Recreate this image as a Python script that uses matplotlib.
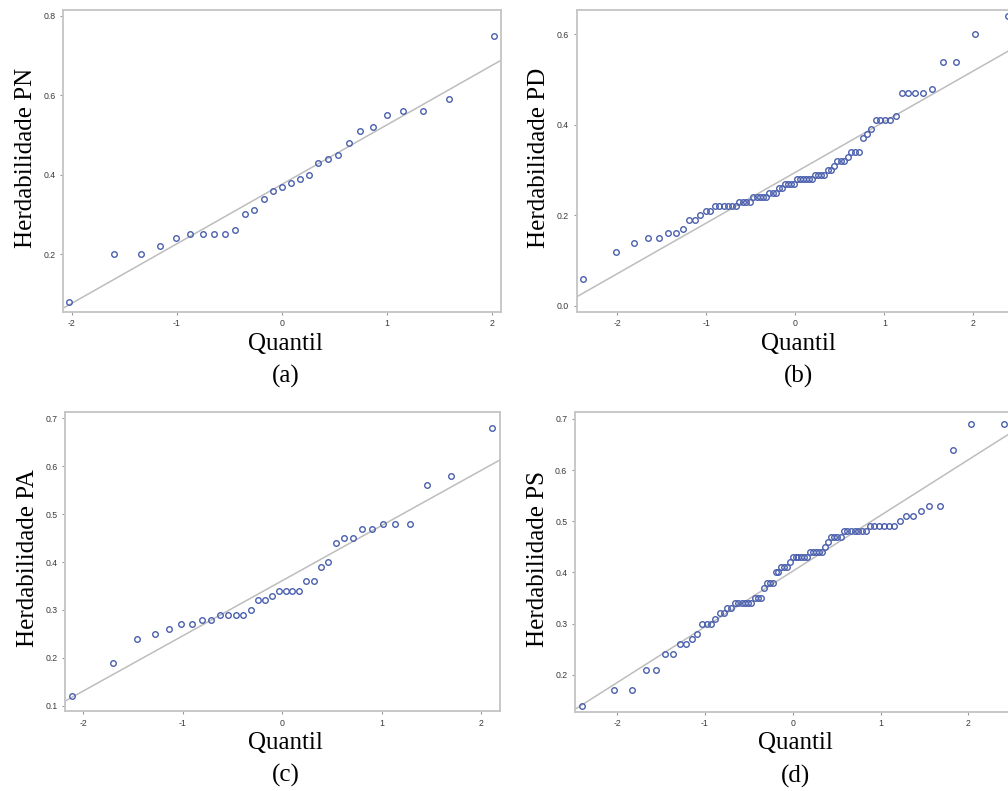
import matplotlib
matplotlib.use('Agg')
import matplotlib.pyplot as plt
import numpy as np
from statistics import NormalDist

# heritability values (sorted)
herd_pn = [0.08, 0.20, 0.20, 0.22, 0.24, 0.25, 0.25, 0.25, 0.25, 0.26, 0.30, 0.31, 0.34, 0.36, 0.37,
           0.38, 0.39, 0.40, 0.43, 0.44, 0.45, 0.48, 0.51, 0.52, 0.55, 0.56, 0.56, 0.59, 0.75]

herd_pd = [0.06, 0.12, 0.14, 0.15, 0.15, 0.16, 0.16, 0.17, 0.19, 0.19, 0.20, 0.21, 0.21,
           0.22, 0.22, 0.22, 0.22, 0.22, 0.22, 0.23, 0.23, 0.23, 0.23,
           0.24, 0.24, 0.24, 0.24, 0.24, 0.25, 0.25, 0.25, 0.26, 0.26,
           0.27, 0.27, 0.27, 0.27, 0.28, 0.28, 0.28, 0.28, 0.28, 0.28,
           0.29, 0.29, 0.29, 0.29, 0.30, 0.30, 0.31, 0.32, 0.32, 0.32, 0.33,
           0.34, 0.34, 0.34, 0.37, 0.38, 0.39, 0.41, 0.41, 0.41, 0.41, 0.42,
           0.47, 0.47, 0.47, 0.47, 0.48, 0.54, 0.54, 0.60, 0.64]

herd_pa = [0.12, 0.19, 0.24, 0.25, 0.26, 0.27, 0.27, 0.28, 0.28, 0.29, 0.29, 0.29, 0.29, 0.30,
           0.32, 0.32, 0.33, 0.34, 0.34, 0.34, 0.34, 0.36, 0.36, 0.39, 0.40, 0.44, 0.45, 0.45,
           0.47, 0.47, 0.48, 0.48, 0.48, 0.56, 0.58, 0.68]

herd_ps = [0.14, 0.17, 0.17, 0.21, 0.21, 0.24, 0.24, 0.26, 0.26, 0.27, 0.28, 0.30, 0.30, 0.30,
           0.31, 0.32, 0.32, 0.33, 0.33, 0.34, 0.34, 0.34, 0.34, 0.34, 0.34,
           0.35, 0.35, 0.35, 0.37, 0.38, 0.38, 0.38, 0.40, 0.40, 0.41, 0.41, 0.41, 0.42,
           0.43, 0.43, 0.43, 0.43, 0.43, 0.43, 0.44, 0.44, 0.44, 0.44, 0.44, 0.45, 0.46,
           0.47, 0.47, 0.47, 0.47, 0.48, 0.48, 0.48, 0.48, 0.48, 0.48, 0.48,
           0.49, 0.49, 0.49, 0.49, 0.49, 0.49, 0.50, 0.51, 0.51, 0.52, 0.53, 0.53,
           0.64, 0.69, 0.69]

series = [herd_pn, herd_pd, herd_pa, herd_ps]
ylabels = ['Herdabilidade PN', 'Herdabilidade PD', 'Herdabilidade PA', 'Herdabilidade PS']
letters = ['(a)', '(b)', '(c)', '(d)']
yticks = [[0.2, 0.4, 0.6, 0.8], [0.0, 0.2, 0.4, 0.6],
          [0.1, 0.2, 0.3, 0.4, 0.5, 0.6, 0.7], [0.2, 0.3, 0.4, 0.5, 0.6, 0.7]]
xticks = [-2, -1, 0, 1, 2]

# layout (figure fractions) and limits
axes_pos = [[0.0628, 0.6059, 0.4343, 0.3815],
            [0.5721, 0.6059, 0.4338, 0.3815],
            [0.0648, 0.1011, 0.4312, 0.3784],
            [0.5704, 0.1002, 0.4322, 0.3787]]
xlims = [(-2.08, 2.09), (-2.456, 2.456), (-2.18, 2.19), (-2.48, 2.48)]
ylims = [(0.055, 0.815), (-0.013, 0.654), (0.089, 0.714), (0.128, 0.713)]

plt.rcParams['axes.unicode_minus'] = False
serif = 'Liberation Serif'
marker_col = '#4a5fad'
line_col = '#bdbdbd'
spine_col = '#c4c4c4'

fig = plt.figure(figsize=(10.08, 7.91), dpi=100)

for k in range(4):
    vals = np.sort(np.array(series[k]))
    n = len(vals)
    # Blom normal scores, as in SAS QQPLOT
    q = np.array([NormalDist().inv_cdf((i - 0.375) / (n + 0.25)) for i in range(1, n + 1)])
    mu = vals.mean()
    sd = vals.std(ddof=1)

    ax = fig.add_axes(axes_pos[k])
    ax.axline((0, mu), slope=sd, color=line_col, lw=1.1, zorder=1)
    ax.plot(q, vals, 'o', mfc='none', mec=marker_col, mew=1.0, ms=4.0, zorder=2, clip_on=False)

    ax.set_xlim(*xlims[k])
    ax.set_ylim(*ylims[k])
    ax.set_xticks(xticks)
    ax.set_yticks(yticks[k])
    ax.set_xticklabels([str(t) for t in xticks])
    ax.set_yticklabels([f'{t:.1f}' for t in yticks[k]])

    for s in ax.spines.values():
        s.set_color(spine_col)
        s.set_linewidth(1.3)
    ax.tick_params(length=2.5, width=0.8, color='#9a9a9a', labelsize=6.3,
                   labelcolor='#3a3a3a', pad=3.0)
    for lab in ax.get_xticklabels() + ax.get_yticklabels():
        lab.set_family('Liberation Sans')

    ax.set_ylabel(ylabels[k], fontsize=18, family=serif)
    ax.yaxis.set_label_coords(-0.060, 0.51)
    ax.set_xlabel('Quantil', fontsize=18, family=serif, va='baseline')
    ax.xaxis.set_label_coords(0.507, -0.126)
    ax.text(0.507, -0.235, letters[k], transform=ax.transAxes, fontsize=18,
            family=serif, ha='center', va='baseline')

fig.savefig('out.png', dpi=100)
